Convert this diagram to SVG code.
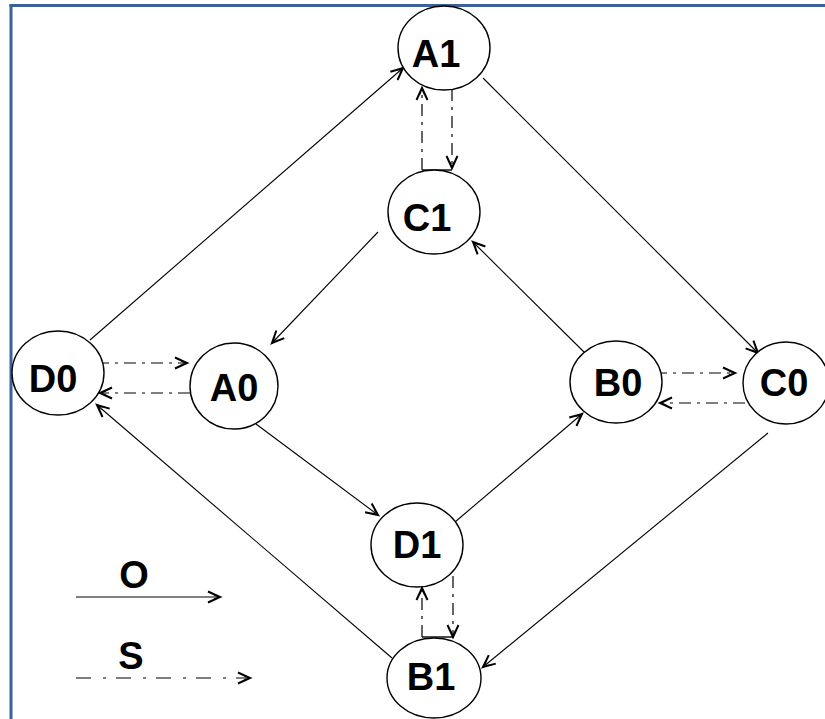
<svg xmlns="http://www.w3.org/2000/svg" width="825" height="719" viewBox="0 0 825 719">
<style>
.node ellipse{fill:#fff;stroke:#000;stroke-width:1.4}
.lbl{font-family:"Liberation Sans",Arial,sans-serif;font-weight:bold;font-size:38px;text-anchor:middle;fill:#000}
.o{fill:none;stroke:#000;stroke-width:1.1;marker-end:url(#arr)}
.s{fill:none;stroke:#000;stroke-width:1.2;stroke-dasharray:12 6 3 6;marker-end:url(#arr)}
.flat{stroke:#000;stroke-width:1.4}
</style>
<defs>
<marker id="arr" markerUnits="userSpaceOnUse" markerWidth="16" markerHeight="14" refX="13" refY="6" orient="auto" viewBox="0 0 16 12">
<path d="M1,0.5 L13,6 L1,11.5 M7,3.5 L13,6 L7,8.5" fill="none" stroke="#000" stroke-width="2"/>
</marker>
</defs>
<rect width="825" height="719" fill="#fff"/>
<g id="border" stroke="#3d6098" stroke-width="3">
<line x1="9.5" y1="5.5" x2="825" y2="5.5"/>
<line x1="11" y1="4" x2="11" y2="719"/>
</g>
<g id="connectors">
<path class="o" d="M90,340 L403,68"/>
<path class="o" d="M483,78 L758,353"/>
<path class="o" d="M378,232 L272,343"/>
<path class="o" d="M585,353 L473,242"/>
<path class="o" d="M256,424 L378,515"/>
<path class="o" d="M455,522 L582,414"/>
<path class="o" d="M768,433 L483,667"/>
<path class="o" d="M392,658 L97,405"/>
<path class="s" d="M422,170 L422,88"/>
<path class="s" d="M452,89 L452,168"/>
<path class="s" d="M97,363 L187,363"/>
<path class="s" d="M190,393 L100,393"/>
<path class="s" d="M655,373 L735,373"/>
<path class="s" d="M745,403 L660,403"/>
<path class="s" d="M422,637 L422,588"/>
<path class="s" d="M453,576 L453,637"/>
<line class="flat" x1="435" y1="89" x2="452" y2="89"/>
<line class="flat" x1="422" y1="170" x2="452" y2="170"/>
<line class="flat" x1="422" y1="637" x2="453" y2="637"/>
</g>
<g id="A1" class="node"><ellipse cx="444" cy="48" rx="46" ry="42"/><text class="lbl" x="436" y="67">A1</text></g>
<g id="C1" class="node"><ellipse cx="434" cy="212" rx="46" ry="42"/><text class="lbl" x="427" y="231">C1</text></g>
<g id="D0" class="node"><ellipse cx="58" cy="373" rx="46" ry="42"/><text class="lbl" x="53" y="392">D0</text></g>
<g id="A0" class="node"><ellipse cx="234" cy="386" rx="44" ry="43"/><text class="lbl" x="234" y="401">A0</text></g>
<g id="B0" class="node"><ellipse cx="616" cy="382" rx="46" ry="41"/><text class="lbl" x="618" y="396">B0</text></g>
<g id="C0" class="node"><ellipse cx="786" cy="383" rx="43" ry="41"/><text class="lbl" x="784" y="396">C0</text></g>
<g id="D1" class="node"><ellipse cx="417" cy="545" rx="46" ry="42"/><text class="lbl" x="417" y="558">D1</text></g>
<g id="B1" class="node"><ellipse cx="434" cy="678" rx="47" ry="40"/><text class="lbl" x="431" y="690">B1</text></g>
<g id="legend">
<text class="lbl" x="134" y="588">O</text>
<path class="o" d="M76,597 L220,597"/>
<text class="lbl" x="131" y="669">S</text>
<path class="s" d="M76,678 L250,678" style="stroke-dasharray:15 12 3 10"/>
</g>
</svg>
